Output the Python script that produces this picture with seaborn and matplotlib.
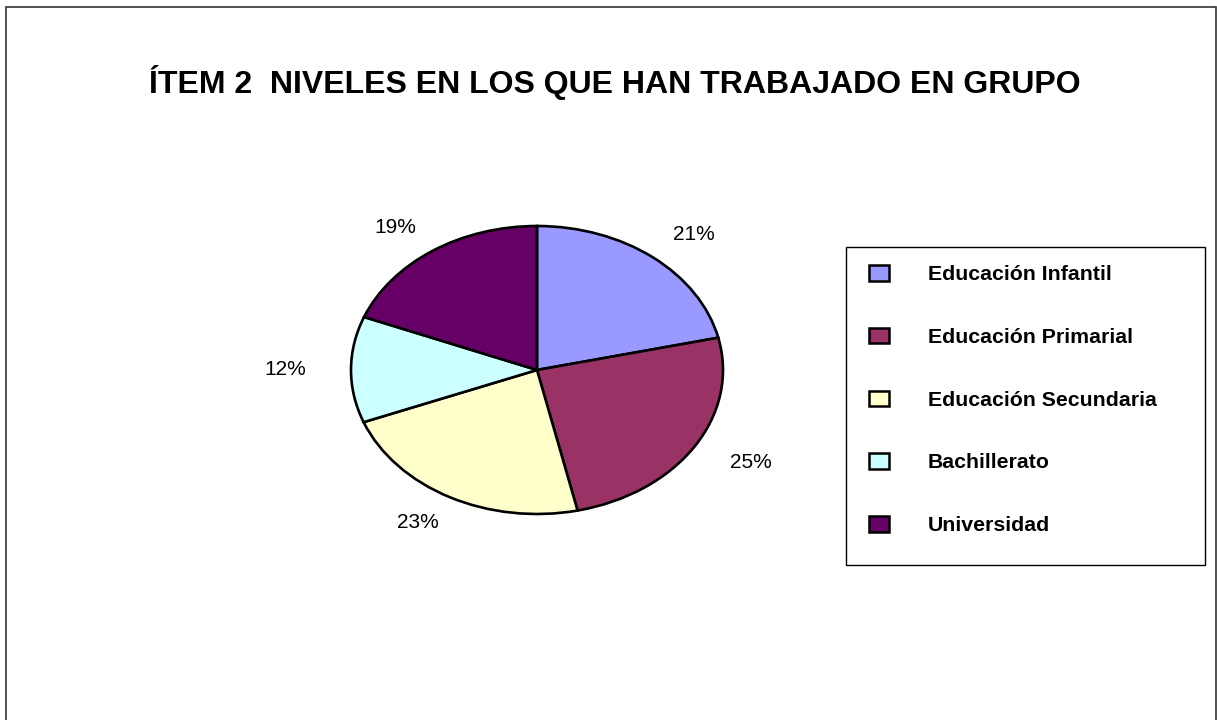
import matplotlib
matplotlib.use("Agg")
import matplotlib.pyplot as plt
from matplotlib.patches import Patch, Rectangle
import seaborn as sns

categories = ["Educación Infantil", "Educación Primarial", "Educación Secundaria",
              "Bachillerato", "Universidad"]
values = [21.4, 25.1, 22.6, 11.9, 19.0]
colors = ["#9999FF", "#993366", "#FFFFCC", "#CCFFFF", "#660066"]
title = "ÍTEM 2  NIVELES EN LOS QUE HAN TRABAJADO EN GRUPO"

sns.set_style("white")
plt.rcParams["font.family"] = ["Liberation Sans", "DejaVu Sans"]
plt.rcParams["text.color"] = "black"

W, H = 1217, 720
fig = plt.figure(figsize=(W / 100, H / 100), dpi=100)
fig.patch.set_facecolor("white")

# outer chart border
fig.patches.append(Rectangle((6 / W, -0.02), (1216 - 6) / W, (H - 7) / H + 0.02,
                             transform=fig.transFigure, fill=False,
                             edgecolor="#333333", linewidth=1.2))

fig.text(615 / W, 1 - 83 / H, title, ha="center", va="center",
         fontsize=23, fontweight="bold", color="black")

ax = fig.add_axes([351 / W, (H - 514) / H, 372 / W, 288 / H])
wedges, texts, autotexts = ax.pie(
    values, colors=colors, startangle=90, counterclock=False,
    autopct="%.0f%%", pctdistance=1.2,
    wedgeprops=dict(edgecolor="black", linewidth=1.9),
    textprops=dict(fontsize=15, color="black"))
ax.set_aspect("auto")
ax.set_xlim(-1, 1)
ax.set_ylim(-1, 1)
for w in wedges:
    w.set_clip_on(False)
for t in autotexts:
    x, y = t.get_position()
    t.set_position((x * 1.13, y))
    t.set_ha("center")
    t.set_va("center")

# legend box
fig.patches.append(Rectangle((846 / W, (H - 565) / H), (1205 - 846) / W, (565 - 247) / H,
                             transform=fig.transFigure, fill=False,
                             edgecolor="black", linewidth=1.0))
handles = [Patch(facecolor=c, edgecolor="black", linewidth=1.8) for c in colors]
leg = fig.legend(handles, categories, loc="upper left",
                 bbox_to_anchor=(869 / W, 1 - 265 / H),
                 frameon=False, borderpad=0, borderaxespad=0,
                 handlelength=0.94, handleheight=0.75, handletextpad=1.84,
                 labelspacing=2.05, labelcolor="black",
                 prop=dict(size=15.3, weight="bold"))

fig.savefig("out.png", dpi=100)
